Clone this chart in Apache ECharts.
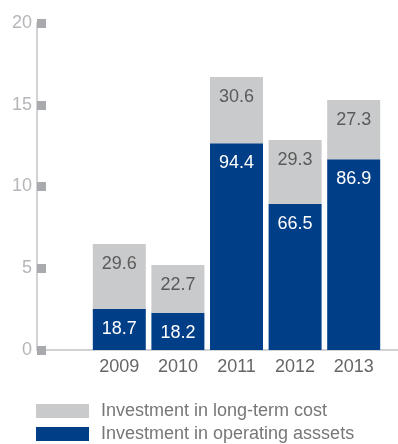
<!DOCTYPE html>
<html>
<head>
<meta charset="utf-8">
<style>
  html, body { margin: 0; padding: 0; background: #ffffff; }
  #chart { width: 398px; height: 444px; }
</style>
<script src="https://cdn.jsdelivr.net/npm/echarts@6/dist/echarts.min.js"></script>
</head>
<body>
<div id="chart"></div>
<script>
// Years on the category axis
const years = ['2009', '2010', '2011', '2012', '2013'];
// Stacked segment heights (axis units)
const operatingAssets = [2.51, 2.28, 12.64, 8.93, 11.66];
const longTermCost = [3.97, 2.92, 4.06, 3.91, 3.63];
// Figures printed inside each segment
const operatingAssetsLabels = ['18.7', '18.2', '94.4', '66.5', '86.9'];
const longTermCostLabels = ['29.6', '22.7', '30.6', '29.3', '27.3'];
// Value axis range
const yMin = 0, yMax = 20, yStep = 5;

const FONT = "'Liberation Sans', Arial, Helvetica, sans-serif";
const FS = 18;
const BLUE = '#003f87';
const GREY = '#c9cacc';
const NAME_LT = 'Investment in long-term cost';
const NAME_OP = 'Investment in operating asssets';

const chart = echarts.init(document.getElementById('chart'), null, { renderer: 'canvas' });

const legendBase = {
  orient: 'vertical',
  left: 36,
  padding: 0,
  itemWidth: 53,
  itemHeight: 14,
  icon: 'rect',
  textStyle: { fontFamily: FONT, fontSize: FS, color: '#777777', padding: [0, 0, 0, 7] }
};

chart.setOption({
  animation: false,
  backgroundColor: '#ffffff',
  legend: [
    Object.assign({}, legendBase, { top: 402, data: [NAME_LT] }),
    Object.assign({}, legendBase, { top: 425, data: [NAME_OP] })
  ],
  grid: [
    // frame grid: carries the value axis and the long baseline
    { left: 37, right: 0, top: 23, bottom: 94 },
    // bar grid
    { left: 90, right: 15, top: 23, bottom: 94 }
  ],
  xAxis: [
    {
      gridIndex: 0, type: 'category', data: [''],
      axisLine: { show: true, lineStyle: { color: '#c4c4c8', width: 1.5 } },
      axisTick: { show: false }, axisLabel: { show: false }
    },
    {
      gridIndex: 1, type: 'category', data: years,
      axisLine: { show: false }, axisTick: { show: false },
      axisLabel: { fontFamily: FONT, fontSize: FS, color: '#666666', margin: 8 }
    }
  ],
  yAxis: [
    {
      gridIndex: 0, type: 'value', min: yMin, max: yMax, interval: yStep,
      axisLine: { show: true, lineStyle: { color: '#c4c4c8', width: 1.5 } },
      axisTick: { show: true, inside: true, length: 9, lineStyle: { color: '#a9aaae', width: 9 } },
      axisLabel: { fontFamily: FONT, fontSize: FS, color: '#b6b6ba', margin: 5 },
      splitLine: { show: false }
    },
    {
      gridIndex: 1, type: 'value', min: yMin, max: yMax, interval: yStep,
      show: false, splitLine: { show: false }
    }
  ],
  series: [
    {
      name: NAME_OP,
      type: 'bar', stack: 'inv', xAxisIndex: 1, yAxisIndex: 1,
      barWidth: 53,
      itemStyle: { color: BLUE },
      data: operatingAssets,
      label: {
        show: true, position: 'insideTop', distance: 11,
        fontFamily: FONT, fontSize: FS, color: '#ffffff',
        formatter: p => operatingAssetsLabels[p.dataIndex]
      }
    },
    {
      name: NAME_LT,
      type: 'bar', stack: 'inv', xAxisIndex: 1, yAxisIndex: 1,
      barWidth: 53,
      itemStyle: { color: GREY },
      data: longTermCost,
      label: {
        show: true, position: 'insideTop', distance: 11,
        fontFamily: FONT, fontSize: FS, color: '#5a5a5a',
        formatter: p => longTermCostLabels[p.dataIndex]
      }
    }
  ]
});
</script>
</body>
</html>
